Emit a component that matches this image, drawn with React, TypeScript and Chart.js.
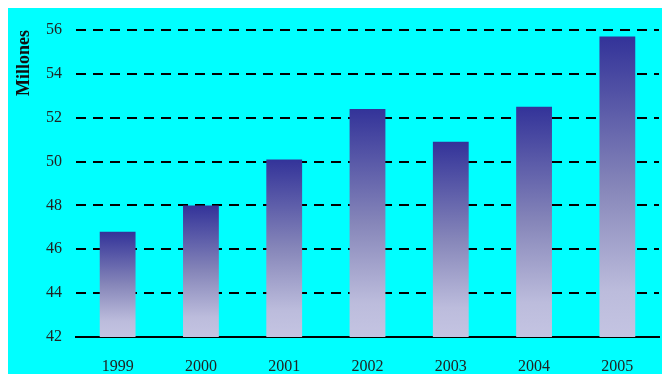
import React, { useEffect, useRef } from "react";
import { Chart, registerables } from "chart.js";

Chart.register(...registerables);

const years = ["1999", "2000", "2001", "2002", "2003", "2004", "2005"];
const values = [46.8, 48.0, 50.1, 52.4, 50.9, 52.5, 55.7];
const yMin = 42;
const yMax = 56;
const yStep = 2;
const yTitle = "Millones";

export default function App() {
  const ref = useRef<HTMLCanvasElement>(null);
  useEffect(() => {
    const canvas = ref.current!;
    const chart = new Chart(canvas, {
      type: "bar",
      data: {
        labels: years,
        datasets: [
          {
            data: values,
            backgroundColor: (ctx: any) => {
              const c = ctx.chart;
              const area = c.chartArea;
              const ys = c.scales?.y;
              if (!area || !ys || ctx.raw == null) return "#6a6ab0";
              const top = ys.getPixelForValue(ctx.raw);
              const bottom = area.bottom;
              if (!isFinite(top) || bottom - top < 1) return "#6a6ab0";
              const g = c.ctx.createLinearGradient(0, top, 0, bottom);
              g.addColorStop(0, "#333399");
              g.addColorStop(0.5, "#8686b9");
              g.addColorStop(0.85, "#bcbcdc");
              g.addColorStop(1, "#c4c4e2");
              return g;
            },
            borderWidth: 0,
            barPercentage: 0.43,
            categoryPercentage: 1,
          },
        ],
      },
      options: {
        animation: false,
        responsive: true,
        maintainAspectRatio: false,
        layout: { padding: { top: 22, right: 11, left: 0, bottom: 0 } },
        plugins: { legend: { display: false }, tooltip: { enabled: false } },
        scales: {
          x: {
            grid: { display: false, drawTicks: false },
            border: { display: true, color: "#000", width: 2 },
            ticks: {
              color: "#222",
              padding: 20,
              font: { family: "'Liberation Serif', serif", size: 16 },
            },
            afterFit: (axis: any) => {
              axis.height = 37;
            },
          },
          y: {
            min: yMin,
            max: yMax,
            grid: { color: "#000", lineWidth: 2, drawTicks: false },
            border: { display: false, dash: [10, 7] },
            ticks: {
              stepSize: yStep,
              color: "#222",
              padding: 14,
              font: { family: "'Liberation Serif', serif", size: 16 },
            },
            title: {
              display: true,
              text: yTitle,
              align: "end",
              color: "#111",
              padding: { top: 6, bottom: 6 },
              font: { family: "'Liberation Serif', serif", size: 18, weight: "bold" },
            },
            afterFit: (axis: any) => {
              axis.width = 68;
              axis.paddingTop = 0;
              axis.paddingBottom = 0;
            },
          },
        },
      },
    });
    return () => chart.destroy();
  }, []);
  return (
    <div style={{ width: 662, height: 366, position: "relative", background: "#00ffff" }}>
      <canvas ref={ref} />
    </div>
  );
}
